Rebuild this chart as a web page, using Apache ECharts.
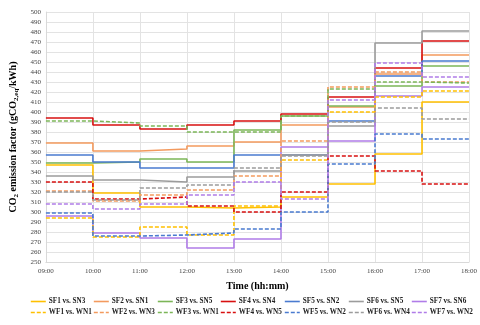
<!DOCTYPE html>
<html>
<head>
<meta charset="utf-8">
<script src="https://cdn.jsdelivr.net/npm/echarts@6/dist/echarts.min.js"></script>
<style>
  html, body { margin: 0; padding: 0; background: #fff; }
  #chart1 { width: 480px; height: 325px; }
</style>
</head>
<body>
<div id="chart1"></div>
<script>
// hours where each step starts (last one is the end of the day)
var hours = [9, 10, 11, 12, 13, 14, 15, 16, 17, 18];

// emission factor for each hour slot 09-10 ... 17-18
var SF1 = [347, 319, 305, 304, 305, 315, 328, 358, 410];
var SF2 = [369, 361, 363, 366, 370, 387, 405, 438, 457];
var SF3 = [349, 350, 353, 350, 382, 396, 406, 426, 446];
var SF4 = [394, 387, 383, 387, 391, 398, 415, 444, 471];
var SF5 = [357, 350, 344, 344, 357, 357, 391, 436, 451];
var SF6 = [336, 332, 330, 335, 341, 357, 386, 469, 481];
var SF7 = [296, 279, 274, 264, 273, 365, 371, 416, 425];
var WF1 = [294, 275, 285, 277, 306, 352, 400, 415, 421];
var WF2 = [321, 311, 317, 322, 336, 371, 425, 440, 430];
var WF3 = [391, 389, 386, 380, 380, 396, 423, 430, 429];
var WF4 = [330, 313, 315, 306, 300, 320, 356, 341, 328];
var WF5 = [299, 276, 277, 279, 283, 300, 348, 378, 373];
var WF6 = [320, 312, 324, 327, 344, 356, 390, 404, 393];
var WF7 = [308, 303, 308, 317, 330, 313, 412, 449, 435];

var names = ['SF1 vs. SN3', 'SF2 vs. SN1', 'SF3 vs. SN5', 'SF4 vs. SN4', 'SF5 vs. SN2', 'SF6 vs. SN5', 'SF7 vs. SN6',
             'WF1 vs. WN1', 'WF2 vs. WN3', 'WF3 vs. WN1', 'WF4 vs. WN5', 'WF5 vs. WN2', 'WF6 vs. WN4', 'WF7 vs. WN2'];
var values = [SF1, SF2, SF3, SF4, SF5, SF6, SF7, WF1, WF2, WF3, WF4, WF5, WF6, WF7];
var colors = ['#FFC000', '#F39A5E', '#7CB658', '#D81010', '#4A7BD0', '#9C9C9C', '#B07CE8'];

var font = 'Liberation Serif, Times New Roman, serif';

function stepData(v) {
    var d = [];
    for (var i = 0; i < v.length; i++) d.push([hours[i], v[i]]);
    d.push([hours[v.length], v[v.length - 1]]);
    return d;
}

var series = [];
var legends = [];
var legendX = [30, 93, 157, 220, 284, 348, 411];
for (var i = 0; i < names.length; i++) {
    var dashed = i >= 7;
    series.push({
        name: names[i],
        type: 'line',
        step: 'end',
        symbol: 'none',
        data: stepData(values[i]),
        color: colors[i % 7],
        lineStyle: { width: 1.6, type: dashed ? [4, 2] : 'solid' }
    });
    legends.push({
        data: [names[i]],
        left: legendX[i % 7],
        top: dashed ? 309 : 298,
        itemWidth: 15,
        itemHeight: 8,
        itemGap: 2,
        padding: 0,
        itemStyle: { opacity: 0 },
        lineStyle: { width: 1.6 },
        textStyle: { fontFamily: font, fontWeight: 'bold', fontSize: 7.2, color: '#222', padding: [0, 0, 0, -2] }
    });
}

var myChart1 = echarts.init(document.getElementById('chart1'));
var option = {
    animation: false,
    backgroundColor: '#fff',
    legend: legends,
    grid: { left: 37, right: 10, top: 12, bottom: 63 },
    xAxis: {
        type: 'value',
        min: 9,
        max: 18,
        interval: 1,
        name: 'Time (hh:mm)',
        nameLocation: 'middle',
        nameGap: 19,
        nameTextStyle: { fontFamily: font, fontWeight: 'bold', fontSize: 10, color: '#000' },
        axisLine: { lineStyle: { color: '#d9d9d9' } },
        axisTick: { show: false },
        splitLine: { show: true, lineStyle: { color: '#e3e3e3' } },
        axisLabel: {
            fontFamily: font, fontSize: 7, color: '#444', margin: 6,
            formatter: function (v) { return (v < 10 ? '0' : '') + v + ':00'; }
        }
    },
    yAxis: {
        type: 'value',
        min: 250,
        max: 500,
        interval: 10,
        name: 'CO{s|2} emission factor (gCO{s|2,eq}/kWh)',
        nameLocation: 'middle',
        nameGap: 22,
        nameTextStyle: {
            fontFamily: font, fontWeight: 'bold', fontSize: 10, color: '#000',
            rich: { s: { fontFamily: font, fontWeight: 'bold', fontSize: 7, color: '#000', verticalAlign: 'bottom', padding: [6, 0, 0, 0] } }
        },
        axisLine: { show: true, lineStyle: { color: '#d9d9d9' } },
        axisTick: { show: false },
        splitLine: { lineStyle: { color: '#e3e3e3' } },
        axisLabel: { fontFamily: font, fontSize: 7, color: '#444', margin: 5 }
    },
    series: series
};
myChart1.setOption(option);
</script>
</body>
</html>
